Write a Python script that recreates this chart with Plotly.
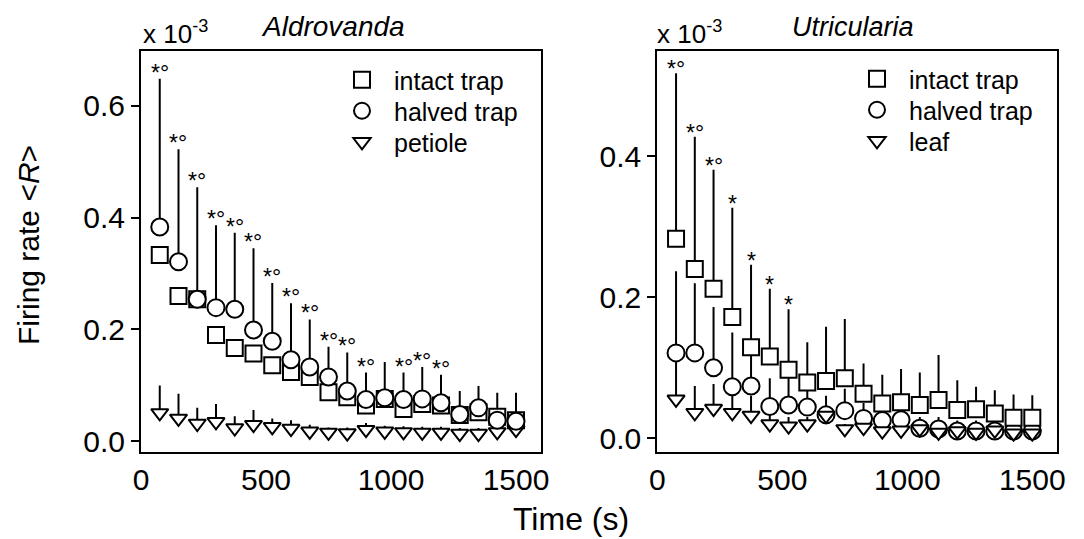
import plotly.graph_objects as go

# ---------------- data (units of 10^-3) ----------------
time_s = [75, 150, 225, 300, 375, 450, 525, 600, 675, 750,
          825, 900, 975, 1050, 1125, 1200, 1275, 1350, 1425, 1500]

# Aldrovanda
ald_intact = [0.333, 0.260, 0.254, 0.190, 0.167, 0.157, 0.136, 0.124, 0.115, 0.088,
              0.079, 0.064, 0.076, 0.058, 0.067, 0.064, 0.047, 0.052, 0.044, 0.038]
ald_halved = [0.383, 0.321, 0.254, 0.239, 0.236, 0.199, 0.179, 0.146, 0.133, 0.115,
              0.090, 0.075, 0.078, 0.075, 0.076, 0.069, 0.048, 0.060, 0.038, 0.036]
ald_halved_upper = [0.648, 0.522, 0.454, 0.386, 0.373, 0.345, 0.283, 0.247, 0.218, 0.169,
                    0.159, 0.123, 0.142, 0.123, 0.133, 0.119, 0.090, 0.099, 0.087, 0.087]
ald_petiole = [0.051, 0.041, 0.032, 0.035, 0.024, 0.030, 0.026, 0.023, 0.018, 0.016,
               0.015, 0.021, 0.018, 0.017, 0.016, 0.016, 0.014, 0.014, 0.017, 0.021]
ald_petiole_upper = [0.100, 0.085, 0.060, 0.067, 0.045, 0.056, 0.041, 0.038, 0.030, 0.025,
                     0.025, 0.033, 0.028, 0.027, 0.026, 0.026, 0.024, 0.024, 0.028, 0.032]
ald_sig = ["*°", "*°", "*°", "*°", "*°", "*°", "*°", "*°", "*°", "*°",
           "*°", "*°", "", "*°", "*°", "*°", "", "", "", ""]

# Utricularia
utr_intact = [0.283, 0.240, 0.212, 0.172, 0.129, 0.116, 0.097, 0.079, 0.081, 0.085,
              0.063, 0.049, 0.051, 0.047, 0.054, 0.040, 0.041, 0.035, 0.029, 0.029]
utr_intact_upper = [0.518, 0.428, 0.381, 0.327, 0.246, 0.212, 0.183, 0.136, 0.158, 0.169,
                    0.106, 0.090, 0.098, 0.093, 0.118, 0.082, 0.073, 0.068, 0.062, 0.061]
utr_halved = [0.121, 0.121, 0.100, 0.073, 0.074, 0.045, 0.047, 0.044, 0.033, 0.039,
              0.028, 0.025, 0.026, 0.014, 0.013, 0.010, 0.010, 0.010, 0.010, 0.010]
utr_halved_upper = [0.237, 0.220, 0.186, 0.150, 0.125, 0.085, 0.090, 0.075, 0.060, 0.070,
                    0.050, 0.045, 0.045, 0.030, 0.030, 0.025, 0.025, 0.025, 0.025, 0.025]
utr_leaf = [0.055, 0.036, 0.042, 0.036, 0.032, 0.020, 0.017, 0.020, 0.032, 0.013,
            0.015, 0.010, 0.011, 0.013, 0.008, 0.010, 0.008, 0.011, 0.007, 0.007]
utr_leaf_upper = [0.110, 0.074, 0.077, 0.070, 0.060, 0.050, 0.030, 0.030, 0.040, 0.020,
                  0.020, 0.020, 0.020, 0.020, 0.015, 0.015, 0.015, 0.015, 0.015, 0.015]
utr_sig = ["*°", "*°", "*°", "*", "*", "*", "*", "", "", "",
           "", "", "", "", "", "", "", "", "", ""]

x_ticks = [0, 500, 1000, 1500]
ald_y_ticks = [0.0, 0.2, 0.4, 0.6]
utr_y_ticks = [0.0, 0.2, 0.4]

FONT = "Liberation Sans, Arial, sans-serif"
W, H = 1084, 539

fig = go.Figure()


def err_trace(vals, upper, xa, ya):
    return go.Scatter(
        x=time_s, y=vals, xaxis=xa, yaxis=ya, mode="markers",
        marker=dict(size=1, color="rgba(0,0,0,0)"),
        error_y=dict(type="data", symmetric=False,
                     array=[u - v for u, v in zip(upper, vals)],
                     arrayminus=[0] * len(vals), width=0, thickness=2, color="black"),
        showlegend=False, hoverinfo="skip")


def mark_trace(vals, name, symbol, size, xa, ya, legend):
    return go.Scatter(
        x=time_s, y=vals, xaxis=xa, yaxis=ya, mode="markers", name=name,
        marker=dict(symbol=symbol, size=size, color="white",
                    line=dict(color="black", width=2)),
        legend=legend)


def add_sig(upper, sig, xa, ya, shift):
    for t, u, s in zip(time_s, upper, sig):
        if s:
            fig.add_annotation(x=t, y=u, xref=xa, yref=ya, text=s, showarrow=False,
                               xanchor="center", yanchor="middle", yshift=shift,
                               font=dict(family=FONT, size=23, color="black"))


# ---- left panel (Aldrovanda) ----
fig.add_trace(err_trace(ald_petiole, ald_petiole_upper, "x", "y"))
fig.add_trace(err_trace(ald_halved, ald_halved_upper, "x", "y"))
fig.add_trace(mark_trace(ald_petiole, "petiole", "triangle-down", 15, "x", "y", "legend3"))
fig.add_trace(mark_trace(ald_intact, "intact trap", "square", 16, "x", "y", "legend"))
fig.add_trace(mark_trace(ald_halved, "halved trap", "circle", 17, "x", "y", "legend2"))
add_sig(ald_halved_upper, ald_sig, "x", "y", 6)

# ---- right panel (Utricularia) ----
fig.add_trace(err_trace(utr_leaf, utr_leaf_upper, "x2", "y2"))
fig.add_trace(err_trace(utr_halved, utr_halved_upper, "x2", "y2"))
fig.add_trace(err_trace(utr_intact, utr_intact_upper, "x2", "y2"))
fig.add_trace(mark_trace(utr_halved, "halved trap", "circle", 17, "x2", "y2", "legend5"))
fig.add_trace(mark_trace(utr_leaf, "leaf", "triangle-down", 15, "x2", "y2", "legend6"))
fig.add_trace(mark_trace(utr_intact, "intact trap", "square", 16, "x2", "y2", "legend4"))
add_sig(utr_intact_upper, utr_sig, "x2", "y2", 4)

y_dom = [1 - 451.5 / H, 1 - 50.7 / H]

xcommon = dict(range=[0, 1600], tickvals=x_ticks, showgrid=False, zeroline=False,
               showline=True, linewidth=2, linecolor="black", mirror=True,
               ticks="", ticklabelstandoff=0, automargin=False,
               tickfont=dict(family=FONT, size=30, color="black"))
ycommon = dict(showgrid=False, zeroline=False, showline=True, linewidth=2,
               linecolor="black", mirror=True, ticks="outside", ticklen=8,
               tickwidth=2, tickcolor="black", tickformat=".1f", automargin=False,
               tickfont=dict(family=FONT, size=30, color="black"), domain=y_dom)

leg_common = dict(yanchor="top", xanchor="left", bgcolor="rgba(0,0,0,0)",
                  font=dict(family=FONT, size=25, color="black"),
                  itemwidth=54, tracegroupgap=0)
row_tops = [57, 88, 119]

fig.update_layout(
    template="none",
    width=W, height=H, margin=dict(l=0, r=0, t=0, b=0, pad=0, autoexpand=False),
    plot_bgcolor="white", paper_bgcolor="white",
    font=dict(family=FONT, color="black"),
    xaxis=dict(xcommon, domain=[141 / W, 541 / W], anchor="y"),
    yaxis=dict(ycommon, range=[-0.018, 0.698], tickvals=ald_y_ticks, anchor="x"),
    xaxis2=dict(xcommon, domain=[657.3 / W, 1057.3 / W], anchor="y2"),
    yaxis2=dict(ycommon, range=[-0.019, 0.550], tickvals=utr_y_ticks, anchor="x2"),
    legend=dict(leg_common, x=330 / W, y=1 - row_tops[0] / H),
    legend2=dict(leg_common, x=330 / W, y=1 - row_tops[1] / H),
    legend3=dict(leg_common, x=330 / W, y=1 - row_tops[2] / H),
    legend4=dict(leg_common, x=845 / W, y=1 - (row_tops[0] - 1) / H),
    legend5=dict(leg_common, x=845 / W, y=1 - (row_tops[1] - 1) / H),
    legend6=dict(leg_common, x=845 / W, y=1 - (row_tops[2] - 1) / H),
    showlegend=True,
)

ann_font = dict(family=FONT, color="black")
fig.add_annotation(text="x 10<sup>-3</sup>", x=141 / W, y=1 - 32 / H, xref="paper", yref="paper",
                   xanchor="left", yanchor="middle", showarrow=False, font=dict(ann_font, size=26))
fig.add_annotation(text="x 10<sup>-3</sup>", x=655 / W, y=1 - 32 / H, xref="paper", yref="paper",
                   xanchor="left", yanchor="middle", showarrow=False, font=dict(ann_font, size=26))
fig.add_annotation(text="<i>Aldrovanda</i>", x=333 / W, y=1 - 27 / H, xref="paper", yref="paper",
                   xanchor="center", yanchor="middle", showarrow=False, font=dict(ann_font, size=28))
fig.add_annotation(text="<i>Utricularia</i>", x=853 / W, y=1 - 27 / H, xref="paper", yref="paper",
                   xanchor="center", yanchor="middle", showarrow=False, font=dict(ann_font, size=27))
fig.add_annotation(text="Firing rate &lt;<i>R</i>&gt;", x=28 / W, y=1 - 245 / H, xref="paper", yref="paper",
                   xanchor="center", yanchor="middle", textangle=-90, showarrow=False,
                   font=dict(ann_font, size=30))
fig.add_annotation(text="Time (s)", x=571 / W, y=1 - 519 / H, xref="paper", yref="paper",
                   xanchor="center", yanchor="middle", showarrow=False, font=dict(ann_font, size=32))

fig.write_html("out.html", config={"displayModeBar": False},
               post_script="document.body.style.margin='0';")
